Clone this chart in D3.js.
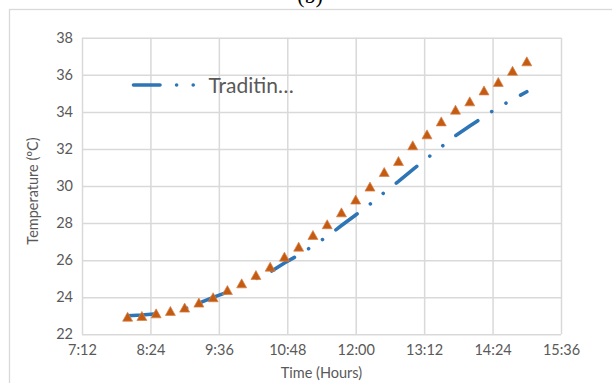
<!DOCTYPE html>
<html>
<head>
<meta charset="utf-8">
<script src="https://cdn.jsdelivr.net/npm/d3@7"></script>
<style>
  body { margin: 0; background: #fff; }
  svg { display: block; }
  text { font-family: Lato, "Open Sans", sans-serif; fill: #595959; }
</style>
</head>
<body>
<div id="chart"></div>
<script>
// readings every 15 minutes
const times = ["8:00", "8:15", "8:30", "8:45", "9:00", "9:15", "9:30", "9:45",
  "10:00", "10:15", "10:30", "10:45", "11:00", "11:15", "11:30", "11:45",
  "12:00", "12:15", "12:30", "12:45", "13:00", "13:15", "13:30", "13:45",
  "14:00", "14:15", "14:30", "14:45", "15:00"];

// blue dash-dot series (the one in the legend)
const traditional = [23.0, 23.04, 23.1, 23.18, 23.37, 23.68, 23.99, 24.28,
  24.66, 25.0, 25.36, 25.85, 26.28, 26.77, 27.28, 27.87,
  28.44, 29.02, 29.65, 30.25, 30.89, 31.5, 32.11, 32.72,
  33.24, 33.75, 34.25, 34.67, 35.09];

// orange triangle series
const triangles = [22.95, 22.99, 23.13, 23.26, 23.44, 23.71, 24.0, 24.39,
  24.75, 25.2, 25.65, 26.19, 26.73, 27.36, 27.94, 28.58,
  29.27, 29.97, 30.76, 31.35, 32.2, 32.79, 33.49, 34.12,
  34.57, 35.16, 35.62, 36.22, 36.73];

const legendLabel = "Traditin…";
const xTickLabels = ["7:12", "8:24", "9:36", "10:48", "12:00", "13:12", "14:24", "15:36"];
const yTickValues = [22, 24, 26, 28, 30, 32, 34, 36, 38];

const toMin = (s) => {
  const [h, m] = s.split(":").map(Number);
  return h * 60 + m;
};

const W = 612, H = 383;
const plot = { left: 82, top: 37.8, right: 561, bottom: 334.3 };

const svg = d3.select("#chart").append("svg")
  .attr("width", W)
  .attr("height", H);

// outer chart frame (runs off the right and bottom)
svg.append("rect")
  .attr("x", 9.5).attr("y", 9.5)
  .attr("width", 620).attr("height", 400)
  .attr("fill", "none")
  .attr("stroke", "#d9d9d9")
  .attr("stroke-width", 1.3);

// title, mostly cut off at the top like in the source
svg.append("text")
  .attr("x", 310).attr("y", 3)
  .attr("text-anchor", "middle")
  .style("font-family", "'Liberation Serif', serif")
  .style("font-size", "22px")
  .style("fill", "#000")
  .text("(b)");

const xTicks = xTickLabels.map(toMin);
const x = d3.scaleLinear()
  .domain([xTicks[0], xTicks[xTicks.length - 1]])
  .range([plot.left, plot.right]);
const y = d3.scaleLinear()
  .domain([yTickValues[0], yTickValues[yTickValues.length - 1]])
  .range([plot.bottom, plot.top]);

// horizontal gridlines + y labels
const yAxis = svg.append("g")
  .attr("transform", "translate(" + plot.left + ",0)")
  .call(d3.axisLeft(y).tickValues(yTickValues)
    .tickSize(-(plot.right - plot.left)).tickPadding(9));
yAxis.select(".domain").remove();
yAxis.selectAll("line").attr("stroke", "#d9d9d9").attr("stroke-width", 1.5);
yAxis.selectAll("text").style("font-size", "14.5px").style("font-family", "Lato, sans-serif");

// vertical gridlines + x labels
const xAxis = svg.append("g")
  .attr("transform", "translate(0," + plot.bottom + ")")
  .call(d3.axisBottom(x).tickValues(xTicks)
    .tickFormat((d, i) => xTickLabels[i])
    .tickSize(-(plot.bottom - plot.top)).tickPadding(10));
xAxis.select(".domain").remove();
xAxis.selectAll("line").attr("stroke", "#d9d9d9").attr("stroke-width", 1.5);
xAxis.selectAll("text").style("font-size", "14.5px").style("font-family", "Lato, sans-serif");

// axis titles
svg.append("text")
  .attr("x", (plot.left + plot.right) / 2)
  .attr("y", 378)
  .attr("text-anchor", "middle")
  .style("font-size", "14.5px")
  .text("Time (Hours)");

svg.append("text")
  .attr("transform", "translate(33,191) rotate(-90)")
  .attr("text-anchor", "middle")
  .attr("dy", "0.35em")
  .style("font-size", "14.5px")
  .text("Temperature (ºC)");

// long dash dot dot pattern
const dashPattern = "26.5 16.6 0.01 16.6 0.01 16.6";
const blue = "#2E75B6";
const orange = "#C55A11";

const line = d3.line()
  .x((d) => x(toMin(d.t)))
  .y((d) => y(d.v));

const tradData = times.map((t, i) => ({ t: t, v: traditional[i] }));
const triData = times.map((t, i) => ({ t: t, v: triangles[i] }));

svg.append("path")
  .datum(tradData)
  .attr("d", line)
  .attr("fill", "none")
  .attr("stroke", blue)
  .attr("stroke-width", 3.6)
  .attr("stroke-linecap", "round")
  .attr("stroke-dasharray", dashPattern);

// triangle markers
const tw = 10, th = 9;
svg.selectAll(".tri")
  .data(triData)
  .join("path")
  .attr("class", "tri")
  .attr("transform", (d) => "translate(" + x(toMin(d.t)) + "," + y(d.v) + ")")
  .attr("d", "M0," + (-th / 2) + "L" + tw / 2 + "," + th / 2 + "L" + (-tw / 2) + "," + th / 2 + "Z")
  .attr("fill", orange)
  .attr("stroke", "#d6834d")
  .attr("stroke-width", 0.7);

// legend
const legend = svg.append("g").attr("transform", "translate(133.5,85)");
legend.append("line")
  .attr("x1", 0).attr("x2", 62)
  .attr("y1", 0).attr("y2", 0)
  .attr("stroke", blue)
  .attr("stroke-width", 3.6)
  .attr("stroke-linecap", "round")
  .attr("stroke-dasharray", dashPattern);
legend.append("text")
  .attr("x", 75)
  .attr("y", 0)
  .attr("dy", "0.36em")
  .style("font-size", "21px")
  .text(legendLabel);
</script>
</body>
</html>
